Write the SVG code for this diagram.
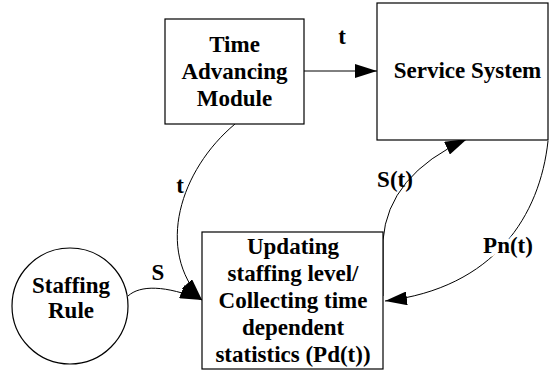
<svg xmlns="http://www.w3.org/2000/svg" width="549" height="373" viewBox="0 0 549 373">
  <style>
    .box { fill: #fff; stroke: #000; stroke-width: 1.2; }
    text { font-family: 'Liberation Serif', 'Times New Roman', 'DejaVu Serif', Times, serif; font-weight: bold; font-size: 23px; fill: #000; text-anchor: middle; }
    .edge { fill: none; stroke: #000; stroke-width: 1; }
    .halo { paint-order: stroke; stroke: #fff; stroke-width: 7px; stroke-linejoin: round; }
  </style>
  <defs>
    <marker id="arrow" markerUnits="userSpaceOnUse" markerWidth="22" markerHeight="14" refX="22" refY="7" orient="auto">
      <path d="M0,0 L22,7 L0,14 z" fill="#000"/>
    </marker>
  </defs>
  <rect width="549" height="373" fill="#fff"/>

  <!-- connectors -->
  <g id="connectors">
    <path class="edge" d="M304,71 L377,71" marker-end="url(#arrow)"/>
    <path class="edge" d="M235,124 C180,170 155,250 202,300" marker-end="url(#arrow)"/>
    <path class="edge" d="M128,296 C140,285 165,285 202,300" marker-end="url(#arrow)"/>
    <path class="edge" d="M383,296 L383,240 Q388,175 467,139" marker-end="url(#arrow)"/>
    <path class="edge" d="M548,141 C540,215 495,288 385,301" marker-end="url(#arrow)"/>
    <text x="342" y="44">t</text>
    <text x="180" y="193">t</text>
    <text x="158" y="280">S</text>
    <text x="395" y="187">S(t)</text>
    <text class="halo" x="508" y="253">Pn(t)</text>
  </g>

  <g id="time-advancing">
    <rect class="box" x="165" y="19" width="139" height="105"/>
    <text x="234.5" y="52">Time</text>
    <text x="234.5" y="79">Advancing</text>
    <text x="234.5" y="106">Module</text>
  </g>

  <g id="service-system">
    <rect class="box" x="377" y="3" width="171" height="137"/>
    <text x="467.5" y="78">Service System</text>
  </g>

  <g id="staffing-rule">
    <circle class="box" cx="70" cy="306" r="58"/>
    <text x="71" y="293">Staffing</text>
    <text x="71" y="318">Rule</text>
  </g>

  <g id="updating">
    <rect class="box" x="202" y="232" width="181" height="137"/>
    <text x="293" y="254">Updating</text>
    <text x="293" y="281">staffing level/</text>
    <text x="293" y="308">Collecting time</text>
    <text x="293" y="335">dependent</text>
    <text x="293" y="362">statistics (Pd(t))</text>
  </g>
</svg>
